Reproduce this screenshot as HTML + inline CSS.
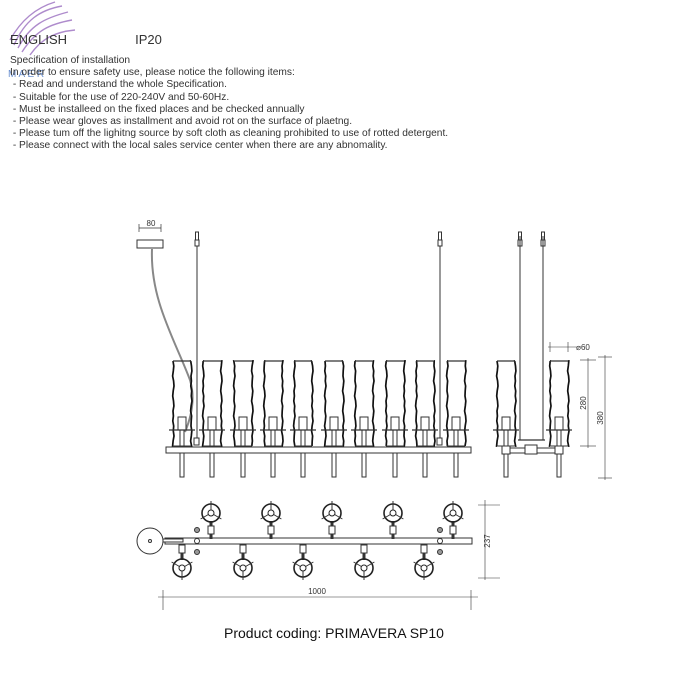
<!DOCTYPE html>
<html><head><meta charset="utf-8"><style>
body{margin:0;background:#fff;width:700px;height:700px;overflow:hidden;font-family:"Liberation Sans",sans-serif}
.t{position:absolute;color:#333;font-size:10.2px;line-height:12.2px;left:10px}
</style></head><body>
<svg id="s" width="700" height="700" style="position:absolute;left:0;top:0" xmlns="http://www.w3.org/2000/svg">
<g fill="none" stroke="#9a6fc0" stroke-width="1.4" opacity="0.8">
<path d="M14 45 C25 20 40 10 62 6"/><path d="M18 48 C30 25 45 18 68 12"/><path d="M22 52 C36 30 50 24 72 20"/><path d="M30 55 C42 38 55 32 75 30"/><path d="M10 40 C20 22 35 8 55 2"/>
</g>
<text x="8" y="77" font-size="10" fill="#6a8fd0" font-family="Liberation Sans">M A E R</text>
</svg>
<div class="t" style="top:34px;font-size:13px;color:#333">ENGLISH<span style="margin-left:68px">IP20</span></div>
<div class="t" style="top:55px">Specification of installation<br>In order to ensure safety use, please notice the following items:<br>&nbsp;- Read and understand the whole Specification.<br>&nbsp;- Suitable for the use of 220-240V and 50-60Hz.<br>&nbsp;- Must be installeed on the fixed places and be checked annually<br>&nbsp;- Please wear gloves as installment and avoid rot on the surface of plaetng.<br>&nbsp;- Please tum off the lighitng source by soft cloth as cleaning prohibited to use of rotted detergent.<br>&nbsp;- Please connect with the local sales service center when there are any abnomality.</div>
<div style="position:absolute;top:625px;left:224px;font-size:14px;color:#111">Product coding: PRIMAVERA SP10</div>
<script>
var s=document.getElementById('s'),h='';
function L(a,b,c,d,w,col){h+='<line x1="'+a+'" y1="'+b+'" x2="'+c+'" y2="'+d+'" stroke="'+(col||'#333')+'" stroke-width="'+(w||1)+'"/>';}
function R(x,y,w,hh,sw){h+='<rect x="'+x+'" y="'+y+'" width="'+w+'" height="'+hh+'" fill="#fff" stroke="#333" stroke-width="'+(sw||1)+'"/>';}
function T(x,y,t,rot){h+='<text x="'+x+'" y="'+y+'" font-size="8" fill="#333" text-anchor="middle" font-family="Liberation Sans"'+(rot?' transform="rotate(-90 '+x+' '+y+')"':'')+'>'+t+'</text>';}
var off=[0,0.8,0.3,-0.4,0.6,1,0.2,-0.3,0.5,0.9,0,0.4,-0.2,0.7,0.3,1,0.1,-0.4,0.6,0.2];
function wavy(x1,y1,y2,k){var p='M'+x1+' '+y1;var i=k;for(var y=y1;y<=y2;y+=5){p+=' L'+(x1+off[i%20])+' '+y;i++;}p+=' L'+x1+' '+y2;h+='<path d="'+p+'" fill="none" stroke="#111" stroke-width="1.7"/>';}
var kk=0;
function tube(cx){var x=cx-9;wavy(x,361,446,kk++*3);wavy(x+18,361,446,kk++*7);L(x,361,x+18,361,1.2);L(x,446,x+18,446,1);
R(cx-4,417,8,13);L(cx-13,430,cx+13,430,1.2);L(cx-2,430,cx-2,447);L(cx+2,430,cx+2,447);}
function pin(cx){R(cx-2,453,4,24);}
var xs=[182,212,243,273,303,334,364,395,425,456];
L(197,236,197,445);L(440,236,440,445);
[197,440,520,543].forEach(function(x){R(x-1.5,232,3,8);R(x-2,240,4,6);});
h+='<path d="M152 249 C150 300 175 340 190 380 C196 400 190 420 185 432" fill="none" stroke="#888" stroke-width="2"/>';
R(137,240,26,8);L(139,228,161,228,.7);L(139,224,139,232,.7);L(161,224,161,232,.7);T(151,226,'80');
xs.forEach(tube);
R(166,447,305,6);xs.forEach(pin);
R(194,438,5,7);R(437,438,5,7);
[506,559].forEach(function(c){tube(c);pin(c);});
L(520,236,520,440);L(543,236,543,440);L(518,440,545,440,1.2);
R(502,448,61,5);R(525,445,12,9);R(502,446,8,8);R(555,446,8,8);
L(548,347,578,347,.6);L(550,342,550,352,.6);L(568,342,568,352,.6);T(583,350,'⌀60');
L(580,360,596,360,.6);L(588,358,588,448,.6);L(580,446,596,446,.6);T(586,403,'280',1);
L(598,357,612,357,.6);L(605,355,605,480,.6);L(598,478,612,478,.6);T(603,418,'380',1);
h+='<circle cx="150" cy="541" r="13" fill="#fff" stroke="#333"/><circle cx="150" cy="541" r="1.5" fill="none" stroke="#333"/>';
R(165,538,307,6);R(163,539,20,3);
function disc(x,y,up){var d=up?1:-1;L(x,y+8*d,x,539+(up?0:6),3);R(x-3,up?526:545,6,8);
h+='<circle cx="'+x+'" cy="'+y+'" r="9" fill="none" stroke="#222" stroke-width="1.6"/><circle cx="'+x+'" cy="'+y+'" r="3" fill="none" stroke="#222"/>';
[0,120,240].forEach(function(a){var r=(a+(up?-90:90))*Math.PI/180;L(x+3*Math.cos(r),y+3*Math.sin(r),x+12*Math.cos(r),y+12*Math.sin(r),1);});}
[211,271,332,393,453].forEach(function(x){disc(x,513,1);});
[182,243,303,364,424].forEach(function(x){disc(x,568,0);});
[197,440].forEach(function(x){h+='<circle cx="'+x+'" cy="530" r="2.5" fill="#999" stroke="#333"/><circle cx="'+x+'" cy="541" r="2.5" fill="#fff" stroke="#333"/><circle cx="'+x+'" cy="552" r="2.5" fill="#999" stroke="#333"/>';});
L(158,597,478,597,.6);L(163,590,163,610,.6);L(471,590,471,610,.6);T(317,594,'1000');
L(478,505,500,505,.6);L(485,500,485,580,.6);L(478,578,500,578,.6);T(490,541,'237',1);
s.innerHTML+=h;
</script>
</body></html>
